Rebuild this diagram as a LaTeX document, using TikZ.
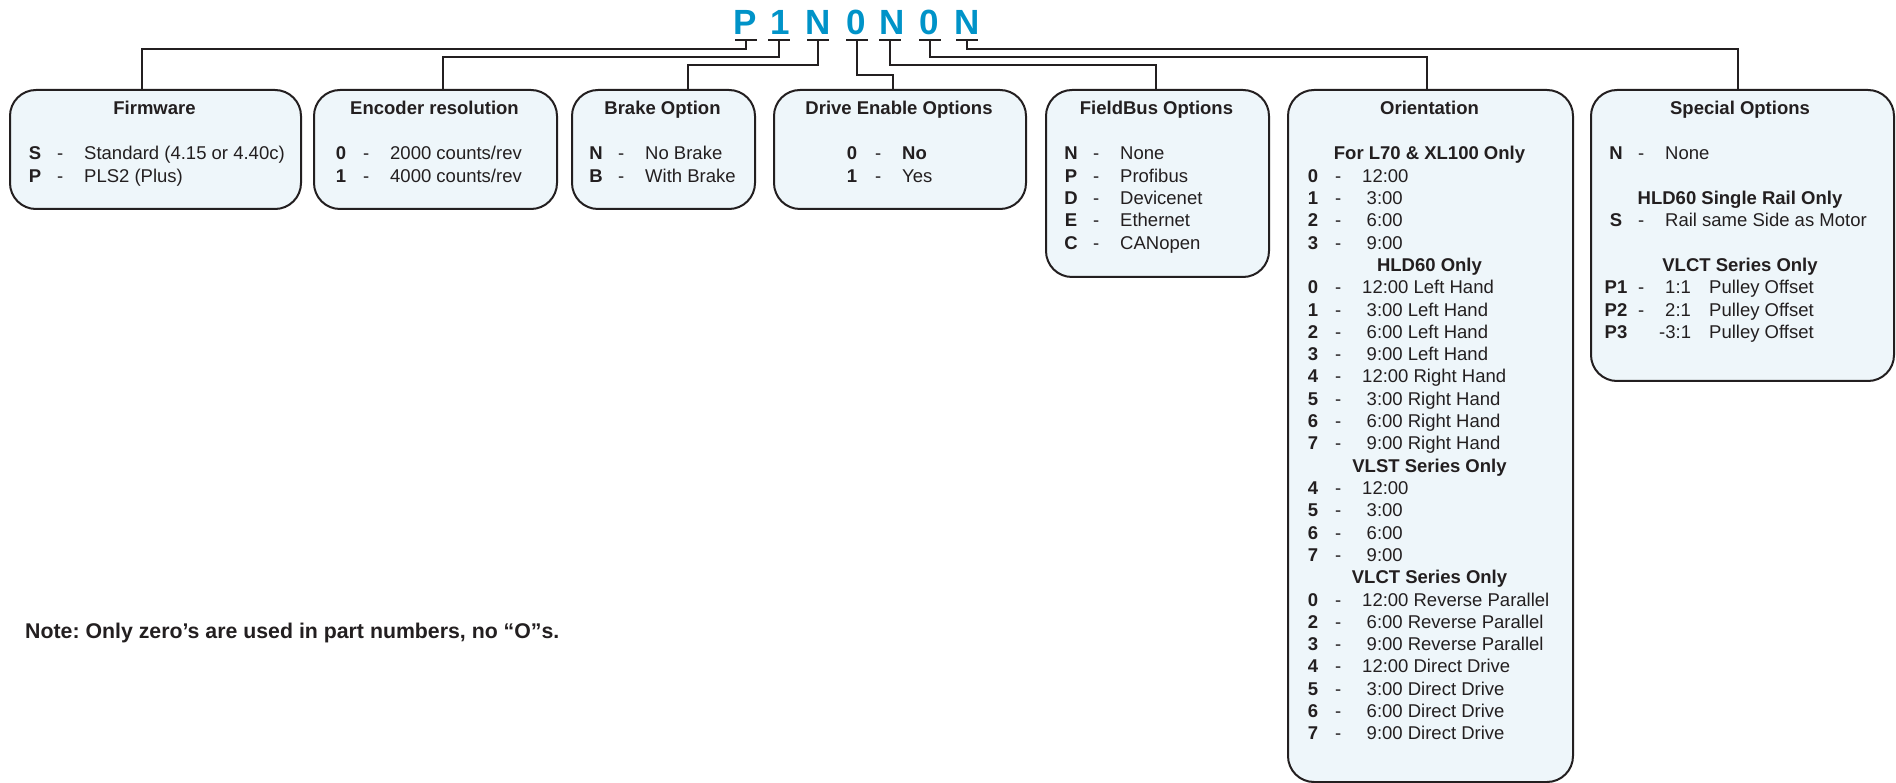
\documentclass[tikz,border=0pt]{standalone}
\usepackage{fontspec}
\setmainfont{Liberation Sans}
\frenchspacing
\definecolor{ink}{HTML}{231F20}
\definecolor{boxfill}{HTML}{EEF6FA}
\definecolor{pnblue}{HTML}{0093C8}
\tikzset{
 optbox/.style={draw=ink, fill=boxfill, line width=2pt, rounded corners=26pt, rectangle, anchor=north west, inner sep=0pt},
 conn/.style={draw=ink, line width=2pt},
 barline/.style={draw=ink, line width=2.5pt},
 pn/.style={text=pnblue, font=\fontsize{35}{35}\selectfont\bfseries, anchor=base, inner sep=0pt},
 ttl/.style={font=\fontsize{18.5}{22}\selectfont\bfseries, text=ink, anchor=base, inner sep=0pt},
 optkey/.style={font=\fontsize{18.5}{22}\selectfont\bfseries, text=ink, anchor=base, inner sep=0pt},
 txt/.style={font=\fontsize{18.5}{22}\selectfont, text=ink, anchor=base west, inner sep=0pt},
}
\newcommand\optrow[5]{%
  \node[optkey] (#1k) at (#2+26, 160+22.3*#3) {#4};
  \node[txt] (#1s) at (#2+48, 160+22.3*#3) {-};
  \node[txt] (#1d) at (#2+75, 160+22.3*#3) {#5};
}
\begin{document}
\frenchspacing
\begin{tikzpicture}[x=1pt,y=-1pt]
\useasboundingbox (0,0) rectangle (1896,783);

% part number
\node[pn] (L1) at (745.5,35) {P};
\node[pn] (L2) at (780,35) {1};
\node[pn] (L3) at (818,35) {N};
\node[pn] (L4) at (856,35) {0};
\node[pn] (L5) at (892,35) {N};
\node[pn] (L6) at (929,35) {0};
\node[pn] (L7) at (967,35) {N};
\coordinate (b1) at (746,40);
\coordinate (b2) at (779,40);
\coordinate (b3) at (818,40);
\coordinate (b4) at (857,40);
\coordinate (b5) at (890,40);
\coordinate (b6) at (930,40);
\coordinate (b7) at (967,40);
\foreach \b in {b1,b2,b3,b4,b5,b6,b7}
  \draw[barline] ([xshift=-11pt]\b) -- ([xshift=11pt]\b);

% boxes
\node[optbox, minimum width=291pt, minimum height=119pt] (firm) at (9,89) {};
\node[optbox, minimum width=243pt, minimum height=119pt] (enc) at (313,89) {};
\node[optbox, minimum width=183pt, minimum height=119pt] (brake) at (571,89) {};
\node[optbox, minimum width=252pt, minimum height=119pt] (drive) at (773,89) {};
\node[optbox, minimum width=223pt, minimum height=187pt] (field) at (1045,89) {};
\node[optbox, minimum width=285pt, minimum height=692pt] (orient) at (1287,89) {};
\node[optbox, minimum width=303pt, minimum height=291pt] (spec) at (1590,89) {};

% connectors
\draw[conn] (b1) -- ++(0,9) -| ([xshift=133pt]firm.north west);
\draw[conn] (b2) -- ++(0,17) -| ([xshift=130pt]enc.north west);
\draw[conn] (b3) -- ++(0,25) -| ([xshift=117pt]brake.north west);
\draw[conn] (b4) -- ++(0,35) -| ([xshift=120pt]drive.north west);
\draw[conn] (b5) -- ++(0,25) -| ([xshift=111pt]field.north west);
\draw[conn] (b6) -- ++(0,17) -| ([xshift=140pt]orient.north west);
\draw[conn] (b7) -- ++(0,9) -| ([xshift=148pt]spec.north west);

% Firmware
\node[ttl] (firmT) at (154.5,115) {Firmware};
\optrow{fwa}{9}{0}{S}{Standard (4.15 or 4.40c)}
\optrow{fwb}{9}{1}{P}{PLS2 (Plus)}

% Encoder
\node[ttl] (encT) at (434.5,115) {Encoder resolution};
\optrow{ena}{315}{0}{0}{2000 counts/rev}
\optrow{enb}{315}{1}{1}{4000 counts/rev}

% Brake
\node[ttl] (brT) at (662.5,115) {Brake Option};
\optrow{bra}{570}{0}{N}{No Brake}
\optrow{brb}{570}{1}{B}{With Brake}

% Drive enable
\node[ttl] (drT) at (899,115) {Drive Enable Options};
\node[optkey] (dra) at (852,160) {0};
\node[txt] (dras) at (875,160) {-};
\node[txt,font=\fontsize{18.5}{22}\selectfont\bfseries] (drad) at (902,160) {No};
\node[optkey] (drb) at (852,182.3) {1};
\node[txt] (drbs) at (875,182.3) {-};
\node[txt] (drbd) at (902,182.3) {Yes};

% FieldBus
\node[ttl] (fbT) at (1156.5,115) {FieldBus Options};
\optrow{fba}{1045}{0}{N}{None}
\optrow{fbb}{1045}{1}{P}{Profibus}
\optrow{fbc}{1045}{2}{D}{Devicenet}
\optrow{fbd}{1045}{3}{E}{Ethernet}
\optrow{fbe}{1045}{4}{C}{CANopen}

% Orientation
\node[ttl] (orT) at (1429.5,115) {Orientation};
\node[ttl] (orH1) at (1429.5,160) {For L70 \& XL100 Only};
\optrow{or1}{1287}{1}{0}{12:00}
\optrow{or2}{1287}{2}{1}{\hspace*{4.5pt}3:00}
\optrow{or3}{1287}{3}{2}{\hspace*{4.5pt}6:00}
\optrow{or4}{1287}{4}{3}{\hspace*{4.5pt}9:00}
\node[ttl] (orH2) at (1429.5,160+22.3*5) {HLD60 Only};
\optrow{or5}{1287}{6}{0}{12:00 Left Hand}
\optrow{or6}{1287}{7}{1}{\hspace*{4.5pt}3:00 Left Hand}
\optrow{or7}{1287}{8}{2}{\hspace*{4.5pt}6:00 Left Hand}
\optrow{or8}{1287}{9}{3}{\hspace*{4.5pt}9:00 Left Hand}
\optrow{or9}{1287}{10}{4}{12:00 Right Hand}
\optrow{or10}{1287}{11}{5}{\hspace*{4.5pt}3:00 Right Hand}
\optrow{or11}{1287}{12}{6}{\hspace*{4.5pt}6:00 Right Hand}
\optrow{or12}{1287}{13}{7}{\hspace*{4.5pt}9:00 Right Hand}
\node[ttl] (orH3) at (1429.5,160+22.3*14) {VLST Series Only};
\optrow{or13}{1287}{15}{4}{12:00}
\optrow{or14}{1287}{16}{5}{\hspace*{4.5pt}3:00}
\optrow{or15}{1287}{17}{6}{\hspace*{4.5pt}6:00}
\optrow{or16}{1287}{18}{7}{\hspace*{4.5pt}9:00}
\node[ttl] (orH4) at (1429.5,160+22.3*19) {VLCT Series Only};
\optrow{or17}{1287}{20}{0}{12:00 Reverse Parallel}
\optrow{or18}{1287}{21}{2}{\hspace*{4.5pt}6:00 Reverse Parallel}
\optrow{or19}{1287}{22}{3}{\hspace*{4.5pt}9:00 Reverse Parallel}
\optrow{or20}{1287}{23}{4}{12:00 Direct Drive}
\optrow{or21}{1287}{24}{5}{\hspace*{4.5pt}3:00 Direct Drive}
\optrow{or22}{1287}{25}{6}{\hspace*{4.5pt}6:00 Direct Drive}
\optrow{or23}{1287}{26}{7}{\hspace*{4.5pt}9:00 Direct Drive}

% Special
\node[ttl] (spT) at (1740,115) {Special Options};
\optrow{spa}{1590}{0}{N}{None}
\node[ttl] (spH1) at (1740,160+22.3*2) {HLD60 Single Rail Only};
\optrow{spb}{1590}{3}{S}{Rail same Side as Motor}
\node[ttl] (spH2) at (1740,160+22.3*5) {VLCT Series Only};
\optrow{spc}{1590}{6}{P1}{1:1}
\node[txt] (spcx) at (1709,160+22.3*6) {Pulley Offset};
\optrow{spd}{1590}{7}{P2}{2:1}
\node[txt] (spdx) at (1709,160+22.3*7) {Pulley Offset};
\node[optkey] (spek) at (1616,160+22.3*8) {P3};
\node[txt] (sped) at (1659,160+22.3*8) {-3:1};
\node[txt] (spex) at (1709,160+22.3*8) {Pulley Offset};

% note
\node[txt,font=\fontsize{21.3}{25}\selectfont\bfseries] (note) at (25,638.5) {\frenchspacing Note: Only zero’s are used in part numbers, no “O”s.};
\end{tikzpicture}
\end{document}
